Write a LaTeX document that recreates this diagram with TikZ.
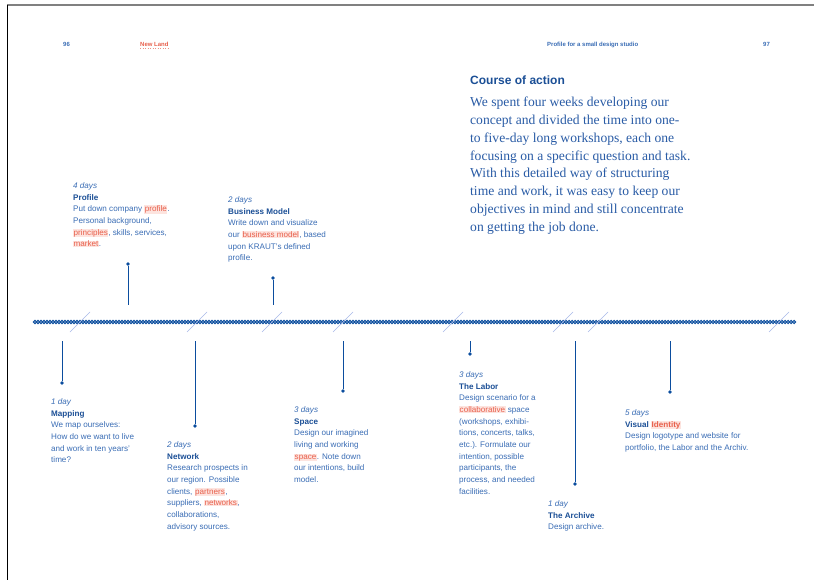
\documentclass[tikz,border=0pt]{standalone}
\usepackage{fontspec}
\setmainfont{Liberation Sans}
\newfontfamily\bookserif{Liberation Serif}
\usetikzlibrary{positioning}

\definecolor{inkblue}{HTML}{0B4D9E}
\definecolor{textblue}{HTML}{3A6DB5}
\definecolor{headblue}{HTML}{1B4F96}
\definecolor{parablue}{HTML}{2A5CA6}
\definecolor{hlred}{HTML}{E8604C}
\definecolor{hlpink}{HTML}{FDE4DF}
\definecolor{slashblue}{HTML}{A9B9E8}

\newcommand{\hilite}[1]{{\setlength{\fboxsep}{0.5pt}\colorbox{hlpink}{\textcolor{hlred}{#1}}}}
\newcommand{\stagehead}[2]{{\itshape #1}\\{\bfseries\color{headblue}#2}}

\tikzset{
  stagetext/.style={anchor=north west,inner sep=0pt,align=left,text=textblue,font=\fontsize{8.1}{11.7}\selectfont},
  stem/.style={draw=inkblue,line width=1pt},
  stemdot/.style={circle,fill=inkblue,inner sep=0pt,minimum size=3.6pt},
  ring/.style={draw=inkblue,line width=1pt},
  tick/.style={draw=slashblue,line width=0.6pt},
  pagehead/.style={anchor=base west,inner sep=0pt,font=\fontsize{6}{7}\selectfont\bfseries}
}

\begin{document}
\begin{tikzpicture}[x=1pt,y=-1pt]
    \useasboundingbox[fill=white] (0,0) rectangle (814,580);
    \draw[gray,line width=1.6pt] (7,5) -- (814,5);
    \draw[black,line width=1pt] (7,5) -- (7,580);

    % page heads
    \node[pagehead,text=textblue] (pgleft) at (63,46.2) {96};
    \node[pagehead,text=hlred] (booktitle) at (140,46.2) {New Land};
    \draw[hlred!70,dotted,line width=0.5pt] (booktitle.south west) ++(0,2) -- ([yshift=-2pt]booktitle.south east);
    \node[pagehead,text=textblue] (chapter) at (547,46.2) {Profile for a small design studio};
    \node[pagehead,text=textblue] (pgright) at (763,46.2) {97};

    % course of action
    \node[anchor=base west,inner sep=0pt,text=headblue,font=\fontsize{12}{14}\selectfont\bfseries] (coursehead) at (470,84.3) {Course of action};
    \node[anchor=north west,inner sep=0pt,align=left,text=parablue,font=\bookserif\fontsize{13.6}{17.9}\selectfont] (course) at (470,96.6)
      {We spent four weeks developing our\\concept and divided the time into one-\\to five-day long workshops, each one\\focusing on a specific question and task.\\With this detailed way of structuring\\time and work, it was easy to keep our\\objectives in mind and still concentrate\\on getting the job done.};

    % timeline
    \coordinate (tl-start) at (35,322);
    \coordinate (tl-end) at (795,322);
    \coordinate (above-line) at (0,305);
    \coordinate (below-line) at (0,341);
    \foreach \x in {35,38,...,795}
      \draw[ring] (\x,322) circle[radius=1.55pt];
    \foreach \s in {80,197,272,343,453,563,598,779}
      \draw[tick] (\s-10,332) -- (\s+10,312);

    % stages above the line
    \node[stagetext] (profile) at (73,182.3)
      {\stagehead{4 days}{Profile}\\Put down company \hilite{profile}.\\Personal background,\\\hilite{principles}, skills, services,\\\hilite{market}.};
    \node[stagetext] (bizmodel) at (228,196.3)
      {\stagehead{2 days}{Business Model}\\Write down and visualize\\our \hilite{business model}, based\\upon KRAUT’s defined\\profile.};
    \node[stemdot] (profile-dot) at (128,264) {};
    \node[stemdot] (bizmodel-dot) at (273,278) {};
    \draw[stem] (profile-dot) -- (profile-dot |- above-line);
    \draw[stem] (bizmodel-dot) -- (bizmodel-dot |- above-line);

    % stages below the line
    \node[stagetext] (mapping) at (51,398.3)
      {\stagehead{1 day}{Mapping}\\We map ourselves:\\How do we want to live\\and work in ten years’\\time?};
    \node[stagetext] (network) at (167,441.3)
      {\stagehead{2 days}{Network}\\Research prospects in\\our region. Possible\\clients, \hilite{partners},\\suppliers, \hilite{networks},\\collaborations,\\advisory sources.};
    \node[stagetext] (space) at (294,406.3)
      {\stagehead{3 days}{Space}\\Design our imagined\\living and working\\\hilite{space}. Note down\\our intentions, build\\model.};
    \node[stagetext] (labor) at (459,371.3)
      {\stagehead{3 days}{The Labor}\\Design scenario for a\\\hilite{collaborative} space\\(workshops, exhibi-\\tions, concerts, talks,\\etc.). Formulate our\\intention, possible\\participants, the\\process, and needed\\facilities.};
    \node[stagetext] (archive) at (548,500.3)
      {\stagehead{1 day}{The Archive}\\Design archive.};
    \node[stagetext] (identity) at (625,409.3)
      {\stagehead{5 days}{Visual \hilite{Identity}}\\Design logotype and website for\\portfolio, the Labor and the Archiv.};

    \node[stemdot] (mapping-dot) at (62,383) {};
    \node[stemdot] (network-dot) at (195,426) {};
    \node[stemdot] (space-dot) at (343,391) {};
    \node[stemdot] (labor-dot) at (470,354) {};
    \node[stemdot] (archive-dot) at (575,484) {};
    \node[stemdot] (identity-dot) at (670,392) {};
    \foreach \st in {mapping,network,space,labor,archive,identity}
      \draw[stem] (\st-dot) -- (\st-dot |- below-line);
\end{tikzpicture}
\end{document}
